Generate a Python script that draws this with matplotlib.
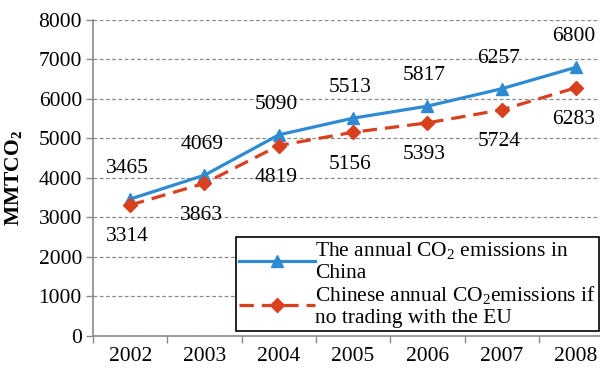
import numpy as np
import matplotlib
matplotlib.use("Agg")
import matplotlib.pyplot as plt

years = ["2002", "2003", "2004", "2005", "2006", "2007", "2008"]
china_actual = [3465, 4069, 5090, 5513, 5817, 6257, 6800]
china_no_eu = [3314, 3863, 4819, 5156, 5393, 5724, 6283]

plt.rcParams["font.family"] = ["Liberation Serif", "DejaVu Serif"]
plt.rcParams["mathtext.fontset"] = "custom"
plt.rcParams["mathtext.rm"] = "Liberation Serif"
plt.rcParams["mathtext.it"] = "Liberation Serif:italic"
plt.rcParams["mathtext.bf"] = "Liberation Serif:bold"

BLUE = "#2e8bd3"
RED = "#d8401f"
GRID = "#8a8a8a"
FS = 15.5

fig = plt.figure(figsize=(6.0, 3.68), dpi=100)
ax = fig.add_axes([0.155, 0.087, 0.867, 0.859])

x = np.arange(len(years))
ax.plot(x, china_actual, color=BLUE, lw=2.3, marker="^", ms=9,
        label="The annual CO$_\\mathrm{2}$ emissions in\nChina", zorder=3)
ax.plot(x, china_no_eu, color=RED, lw=2.3, ls=(0, (4.5, 2.5)), marker="D", ms=7,
        label="Chinese annual CO$_\\mathrm{2}$emissions if\nno trading with the EU", zorder=3)

for xi, v in zip(x, china_actual):
    ax.annotate(str(v), (xi, v), xytext=(-2, 22), textcoords="offset points",
                ha="center", va="center", fontsize=FS)
for xi, v in zip(x, china_no_eu):
    ax.annotate(str(v), (xi, v), xytext=(-2, -23), textcoords="offset points",
                ha="center", va="center", fontsize=FS)

ax.set_xlim(-0.5, len(years) - 0.5)
ax.set_ylim(0, 8000)
ax.set_yticks(np.arange(0, 8001, 1000))
ax.set_xticks(x)
ax.set_xticklabels(years)
ax.set_xticks(np.arange(-0.5, len(years)), minor=True)
ax.tick_params(axis="x", which="major", length=0, labelsize=FS, pad=8)
ax.tick_params(axis="x", which="minor", length=5, width=1, color=GRID, direction="out")
ax.tick_params(axis="y", length=5, width=1, color=GRID, labelsize=FS, pad=3)

ax.grid(axis="y", color=GRID, ls=(0, (3, 2)), lw=0.9)
for side in ["top", "right"]:
    ax.spines[side].set_visible(False)
for side in ["left", "bottom"]:
    ax.spines[side].set_color(GRID)
    ax.spines[side].set_linewidth(1.2)

ax.set_ylabel("MMTCO$_\\mathbf{2}$", fontsize=15.5, fontweight="bold", labelpad=10)

leg = ax.legend(loc="lower right", bbox_to_anchor=(0.972, 0.016), fontsize=FS,
                frameon=True, fancybox=False, edgecolor="black", framealpha=1,
                handlelength=3.5, handletextpad=0.0, borderpad=0.15,
                labelspacing=0.05, borderaxespad=0)
leg.get_frame().set_linewidth(1.2)

fig.savefig("out.png", dpi=100)
